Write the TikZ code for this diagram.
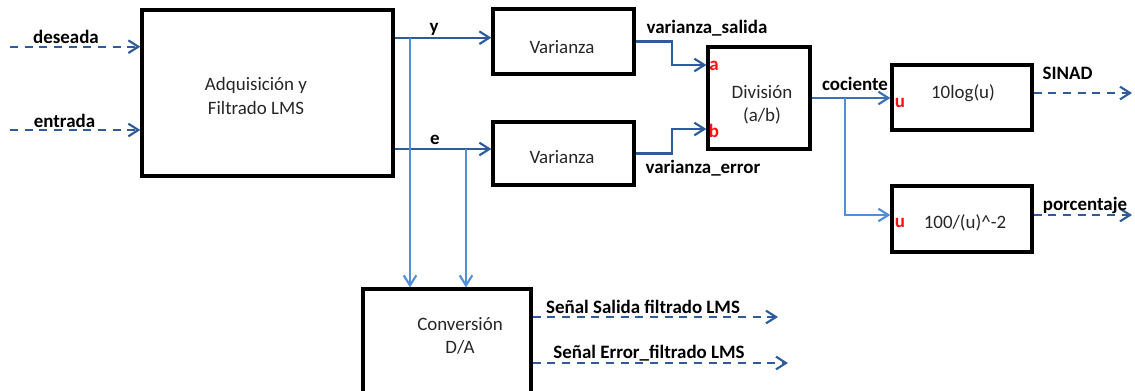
\documentclass[tikz,border=0pt]{standalone}
\usepackage{fontspec}
\setmainfont{Carlito}
\usetikzlibrary{arrows.meta}

\definecolor{darkline}{HTML}{2D5B9B}
\definecolor{midline}{HTML}{3B70B8}
\definecolor{lightline}{HTML}{5090DA}
\definecolor{boxtext}{HTML}{262626}
\definecolor{portred}{HTML}{FF1010}

\tikzset{
  blk/.style 2 args={draw=black, line width=2.5pt, rectangle, inner sep=0pt,
    minimum width=#1*0.75pt, minimum height=#2*0.75pt},
  boxlabel/.style={text=boxtext, align=center, font=\fontsize{14.2}{17.5}\selectfont, inner sep=0pt},
  siglabel/.style={text=black, font=\fontsize{14.2}{16}\selectfont\bfseries, inner sep=0pt},
  portlabel/.style={text=portred, font=\fontsize{14.2}{16}\selectfont\bfseries, inner sep=0pt},
  barb/.style={-{Straight Barb[length=7.5pt, width=9.5pt, line width=1.6pt]}},
  mainwire/.style={barb, draw=darkline, line width=1.7pt},
  cocwire/.style={barb, draw=midline, line width=1.5pt},
  branchwire/.style={barb, draw=lightline, line width=1.4pt},
  dashwire/.style={barb, draw=darkline, line width=1.8pt, dash pattern=on 6pt off 5pt},
}

\begin{document}
\begin{tikzpicture}[x=0.75pt, y=-0.75pt]
  \useasboundingbox (0,0) rectangle (1135,390);
  \clip (0,0) rectangle (1135,390);

  % processing blocks
  \node[blk={251}{166}] (adq) at (267.5,93) {};
  \node[blk={141}{65}]  (var1) at (563.5,41.5) {};
  \node[blk={141}{63}]  (var2) at (563.5,153.5) {};
  \node[blk={102}{102}] (div) at (759,98) {};
  \node[blk={140}{65}]  (log) at (962,97.5) {};
  \node[blk={140}{66}]  (pct) at (962,219) {};
  \node[blk={168}{106}] (dac) at (447,342) {};

  % block captions
  \node[boxlabel] (adqtxt) at (256,96) {Adquisición y\\Filtrado LMS};
  \node[boxlabel] (v1txt) at (562,47) {Varianza};
  \node[boxlabel] (v2txt) at (562,157) {Varianza};
  \node[boxlabel] (divtxt) at (762,105) {División\\(a/b)};
  \node[boxlabel] (logtxt) at (963,93) {10log(u)};
  \node[boxlabel] (pcttxt) at (965,223) {100/(u)\^{}-2};
  \node[boxlabel] (dactxt) at (460,336) {Conversión\\D/A};

  % helper rows and columns
  \coordinate (dsrc) at (10,46.7);
  \coordinate (esrc) at (10,130);
  \coordinate (yrow) at (0,37.7);
  \coordinate (erow) at (0,149);
  \coordinate (arow) at (0,65);
  \coordinate (brow) at (0,129);
  \coordinate (sinadrow) at (0,93);
  \coordinate (pctrow) at (0,215);
  \coordinate (salrow) at (0,317);
  \coordinate (errrow) at (0,363);
  \coordinate (ybr) at (410,37.7);
  \coordinate (ebr) at (466,149);
  \coordinate (cbr) at (845,98);
  \coordinate (sinadend) at (1132,93);
  \coordinate (pctend) at (1132,215);
  \coordinate (salend) at (778,317);
  \coordinate (errend) at (788,363);

  % inputs
  \draw[dashwire] (dsrc) -- (dsrc -| adq.west);
  \draw[dashwire] (esrc) -- (esrc -| adq.west);

  % filter outputs to the variance blocks
  \draw[mainwire] (adq.east |- yrow) -- (var1.west |- yrow);
  \draw[mainwire] (adq.east |- erow) -- (var2.west |- erow);

  % taps to the D/A converter
  \draw[branchwire] (ybr) -- (ybr |- dac.north);
  \draw[branchwire] (ebr) -- (ebr |- dac.north);

  % variances into the divider
  \draw[mainwire] (var1.east) -- ++(36,0) |- (div.west |- arow);
  \draw[mainwire] (var2.east) -- ++(36,0) |- (div.west |- brow);

  % quotient to the output blocks
  \draw[cocwire] (div.east) -- (div.east -| log.west);
  \draw[branchwire] (cbr) |- (pct.west |- pctrow);

  % outputs
  \draw[dashwire] (log.east |- sinadrow) -- (sinadend);
  \draw[dashwire] (pct.east |- pctrow) -- (pctend);
  \draw[dashwire] (dac.east |- salrow) -- (salend);
  \draw[dashwire] (dac.east |- errrow) -- (errend);

  % signal names
  \node[siglabel] (ldes) at (66,37) {deseada};
  \node[siglabel] (lent) at (64.5,121) {entrada};
  \node[siglabel] (ly) at (434,29) {y};
  \node[siglabel] (le) at (435,140) {e};
  \node[siglabel] (lvs) at (707,28) {varianza\_salida};
  \node[siglabel] (lve) at (703,168) {varianza\_error};
  \node[siglabel] (lcoc) at (855,84) {cociente};
  \node[siglabel] (lsinad) at (1067.5,73) {SINAD};
  \node[siglabel] (lpct) at (1085,205) {porcentaje};
  \node[siglabel] (lsal) at (643,307) {Señal Salida filtrado LMS};
  \node[siglabel] (lerr) at (649,353) {Señal Error\_filtrado LMS};

  % port names
  \node[portlabel] (pa) at (714,66) {a};
  \node[portlabel] (pb) at (714,131) {b};
  \node[portlabel] (pu1) at (900,103) {u};
  \node[portlabel] (pu2) at (900,223) {u};
\end{tikzpicture}
\end{document}
